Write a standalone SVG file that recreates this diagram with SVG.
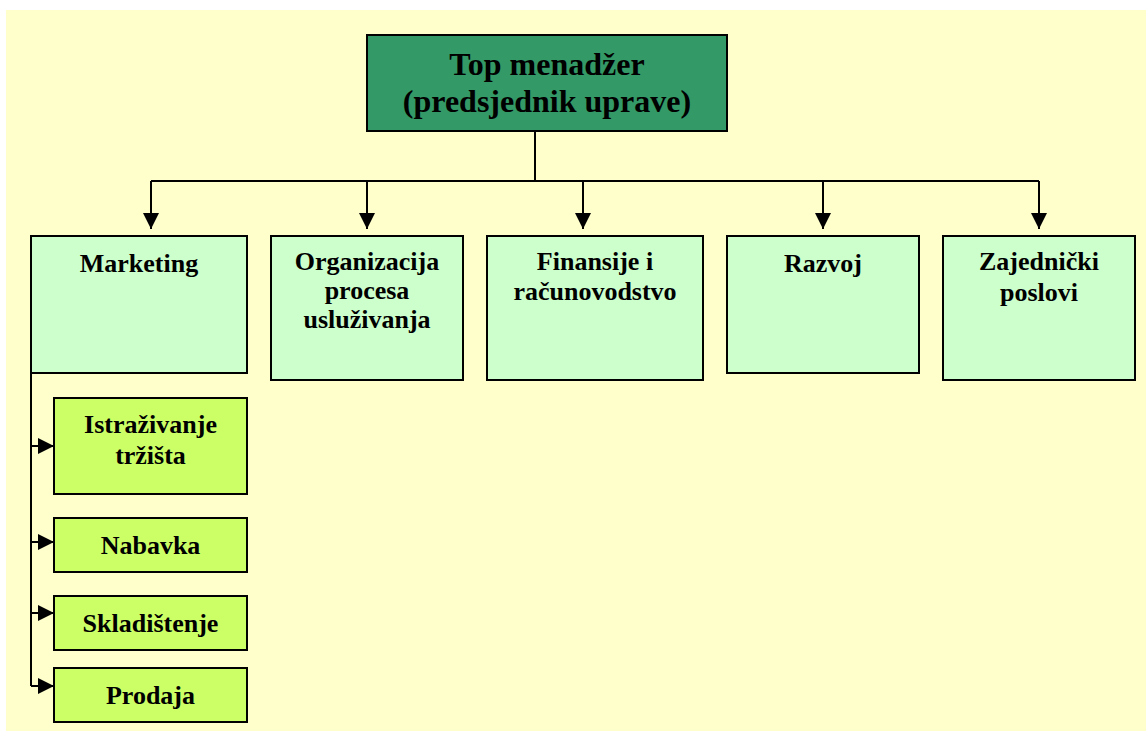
<svg xmlns="http://www.w3.org/2000/svg" width="1146" height="731" viewBox="0 0 1146 731">
<style>
.box{stroke:#000;stroke-width:2}
.top{fill:#339966}
.dept{fill:#CCFFCC}
.sub{fill:#CCFF66}
text{font-family:"Liberation Serif","Times New Roman",serif;font-weight:bold;fill:#000;text-anchor:middle}
.t1{font-size:32px}
.t2{font-size:26px}
.t3{font-size:26px}
.conn{fill:none;stroke:#000;stroke-width:2}
</style>
<defs>
<marker id="arr" markerUnits="userSpaceOnUse" markerWidth="16" markerHeight="16" viewBox="0 0 16 16" refX="16" refY="8" orient="auto">
<path d="M0,0 L16,8 L0,16 Z" fill="#000"/>
</marker>
</defs>
<rect x="6" y="10" width="1140" height="721" fill="#FFFFCC"/>
<g id="connectors">
<path class="conn" d="M535,131 V181"/>
<path class="conn" d="M151,181 H1039"/>
<path class="conn" d="M151,181 V229" marker-end="url(#arr)"/>
<path class="conn" d="M367,181 V229" marker-end="url(#arr)"/>
<path class="conn" d="M583,181 V229" marker-end="url(#arr)"/>
<path class="conn" d="M823,181 V229" marker-end="url(#arr)"/>
<path class="conn" d="M1039,181 V229" marker-end="url(#arr)"/>
<path class="conn" d="M31,373 V686"/>
<path class="conn" d="M31,446 H54" marker-end="url(#arr)"/>
<path class="conn" d="M31,542 H54" marker-end="url(#arr)"/>
<path class="conn" d="M31,613 H54" marker-end="url(#arr)"/>
<path class="conn" d="M31,686 H54" marker-end="url(#arr)"/>
</g>
<g id="top">
<rect class="box top" x="367" y="35" width="360" height="96"/>
<text class="t1" x="547" y="75">Top menadžer</text>
<text class="t1" x="547" y="112">(predsjednik uprave)</text>
</g>
<g id="marketing">
<rect class="box dept" x="31" y="236" width="216" height="137"/>
<text class="t2" x="139" y="272">Marketing</text>
</g>
<g id="organizacija">
<rect class="box dept" x="271" y="236" width="192" height="144"/>
<text class="t2" x="367" y="270">Organizacija</text>
<text class="t2" x="367" y="299">procesa</text>
<text class="t2" x="367" y="328">usluživanja</text>
</g>
<g id="finansije">
<rect class="box dept" x="487" y="236" width="216" height="144"/>
<text class="t2" x="595" y="270">Finansije i</text>
<text class="t2" x="595" y="300">računovodstvo</text>
</g>
<g id="razvoj">
<rect class="box dept" x="727" y="236" width="192" height="137"/>
<text class="t2" x="823" y="272">Razvoj</text>
</g>
<g id="zajednicki">
<rect class="box dept" x="943" y="236" width="192" height="144"/>
<text class="t2" x="1039" y="270">Zajednički</text>
<text class="t2" x="1039" y="301">poslovi</text>
</g>
<g id="istrazivanje">
<rect class="box sub" x="54" y="398" width="193" height="96"/>
<text class="t3" x="150.5" y="433">Istraživanje</text>
<text class="t3" x="150.5" y="464">tržišta</text>
</g>
<g id="nabavka">
<rect class="box sub" x="54" y="518" width="193" height="54"/>
<text class="t3" x="150.5" y="554">Nabavka</text>
</g>
<g id="skladistenje">
<rect class="box sub" x="54" y="596" width="193" height="54"/>
<text class="t3" x="150.5" y="632">Skladištenje</text>
</g>
<g id="prodaja">
<rect class="box sub" x="54" y="668" width="193" height="54"/>
<text class="t3" x="150.5" y="704">Prodaja</text>
</g>
</svg>
